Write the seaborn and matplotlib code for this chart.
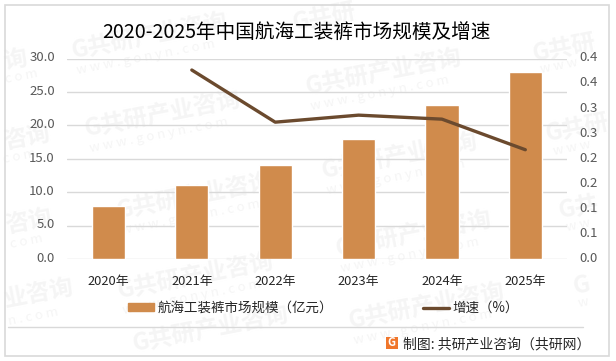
import matplotlib
matplotlib.use('Agg')
import matplotlib.pyplot as plt
import pandas as pd
import seaborn as sns
from matplotlib.patches import Rectangle
from matplotlib.transforms import ScaledTranslation

years = ['2020年', '2021年', '2022年', '2023年', '2024年', '2025年']
market_size = [8.0, 11.0, 14.0, 18.0, 23.0, 28.0]
growth = [None, 0.377, 0.273, 0.287, 0.279, 0.218]
left_ticks = [0, 5, 10, 15, 20, 25, 30]
left_labels = ['0.0', '5.0', '10.0', '15.0', '20.0', '25.0', '30.0']
right_ticks = [0, 0.05, 0.1, 0.15, 0.2, 0.25, 0.3, 0.35, 0.4]
right_labels = ['0.0', '0.1', '0.1', '0.2', '0.2', '0.3', '0.3', '0.4', '0.4']
title = '2020-2025年中国航海工装裤市场规模及增速'
bar_name = '航海工装裤市场规模（亿元）'
line_name = '增速（%）'
source = '制图: 共研产业咨询（共研网）'

W, H = 616, 361
BAR_COL = '#D08B4C'
LINE_COL = '#6B4A2E'
GRID_COL = '#D9D9D9'
TICK_COL = '#595959'
WM_COL = '#F5F5F5'

sns.set_theme(style='white')
plt.rcParams['font.family'] = ['Noto Sans CJK SC', 'DejaVu Sans']

df = pd.DataFrame({'year': years, 'size': market_size, 'growth': growth})

fig = plt.figure(figsize=(W / 100, H / 100), dpi=100, facecolor='white')


def px(x, y):
    return x / W, 1 - y / H


def wm(x, y, s, size=17, bold=True):
    fig.text(*px(x, y), s, fontsize=size, fontweight='bold' if bold else 'normal', color=WM_COL,
             rotation=11, rotation_mode='anchor', ha='left', va='center', zorder=0)


# watermark sits behind everything, shortened near the edges
wm_full = [(72, 52), (85, 130), (117, 212), (118, 292), (306, 88), (322, 172), (336, 250), (349, 322)]
wm_short = [(533, 55, 'G共研'), (546, 135, 'G共研'), (559, 212, 'G共'), (573, 287, 'G'), (293, 24, 'G共研'),
            (3, 62, '询'), (3, 142, '咨询'), (5, 226, '咨询'), (4, 300, '业咨询'), (133, 345, 'G共研产业咨询')]
wm_url = [(5, 80, 'c o m'), (3, 160, 'c o m'), (10, 245, 'c o m'), (8, 322, 'n . c o m'),
          (540, 70, 'w w w'), (553, 152, 'w w w'), (566, 228, 'w w'), (578, 304, 'w')]
for x, y in wm_full:
    wm(x, y, 'G共研产业咨询')
    wm(x + 5, y + 19, 'w w w . g o n y n . c o m', size=9.5, bold=False)
for x, y, s in wm_short:
    wm(x, y, s)
for x, y, s in wm_url:
    wm(x, y, s, size=9.5, bold=False)

ax = fig.add_axes([66.75 / W, 1 - 259 / H, (567 - 66.75) / W, (259 - 58.5) / H], zorder=2)
ax.patch.set_alpha(0)

sns.barplot(data=df, x='year', y='size', color=BAR_COL, saturation=1, width=0.4,
            ax=ax, zorder=3, label=bar_name, legend=False)
ax.set_ylim(0, 30)
ax.set_xlim(-0.5, 5.5)
ax.set_yticks(left_ticks, left_labels)
ax.set_xlabel('')
ax.set_ylabel('')
ax.tick_params(axis='y', length=0, labelsize=9.5, labelcolor=TICK_COL, pad=8.6)
ax.tick_params(axis='x', length=0, labelsize=9.3, labelcolor='#262626', pad=11.5)
ax.grid(axis='y', color=GRID_COL, linewidth=1)
ax.set_axisbelow(True)
sns.despine(ax=ax, left=True, top=True, right=True, bottom=True)

ax2 = ax.twinx()
sns.lineplot(data=df, x='year', y='growth', color=LINE_COL, linewidth=2.4, ax=ax2,
             label=line_name, legend=False, zorder=4, solid_capstyle='round')
ax2.set_ylim(0, 0.4)
ax2.set_yticks(right_ticks, right_labels)
ax2.set_xlabel('')
ax2.set_ylabel('')
ax2.tick_params(axis='y', length=0, labelsize=9.5, labelcolor=TICK_COL, pad=9)
ax2.grid(False)
sns.despine(ax=ax2, left=True, top=True, right=True, bottom=True)

# the CJK font sits low, lift the value labels to the reference height
lift = ScaledTranslation(0, 1.5 / 72, fig.dpi_scale_trans)
for lab in ax.get_yticklabels() + ax2.get_yticklabels():
    lab.set_transform(lab.get_transform() + lift)

fig.text(*px(296, 32), title, fontsize=14.1, color='black', ha='center', va='center')

h1 = [Rectangle((0, 0), 1, 1, color=BAR_COL)]
h2, l2 = ax2.get_legend_handles_labels()
fig.legend(h1 + h2, [bar_name] + l2, loc='center', bbox_to_anchor=px(323.5, 308), ncol=2, frameon=False,
           fontsize=9.7, columnspacing=6.7, handlelength=1.95, handleheight=0.55, handletextpad=0.25,
           labelcolor='#262626', borderpad=0, borderaxespad=0)

# frame, rule above the source line, logo
fig.add_artist(Rectangle(px(4.5, 356), 604.5 / W, 351.5 / H, transform=fig.transFigure,
                         fill=False, edgecolor=GRID_COL, linewidth=1.2))
fig.add_artist(plt.Line2D([8 / W, 583 / W], [1 - 327 / H] * 2, color=GRID_COL, linewidth=1))
fig.add_artist(Rectangle(px(385.5, 349), 12.5 / W, 12.5 / H, transform=fig.transFigure,
                         facecolor='#F0762B', edgecolor='none'))
fig.text(*px(391.7, 342.5), 'G', fontsize=8, fontweight='bold', color='white', ha='center', va='center')
fig.text(*px(403, 344), source, fontsize=10, color='#262626', ha='left', va='center')

fig.savefig('out.png', dpi=100)
